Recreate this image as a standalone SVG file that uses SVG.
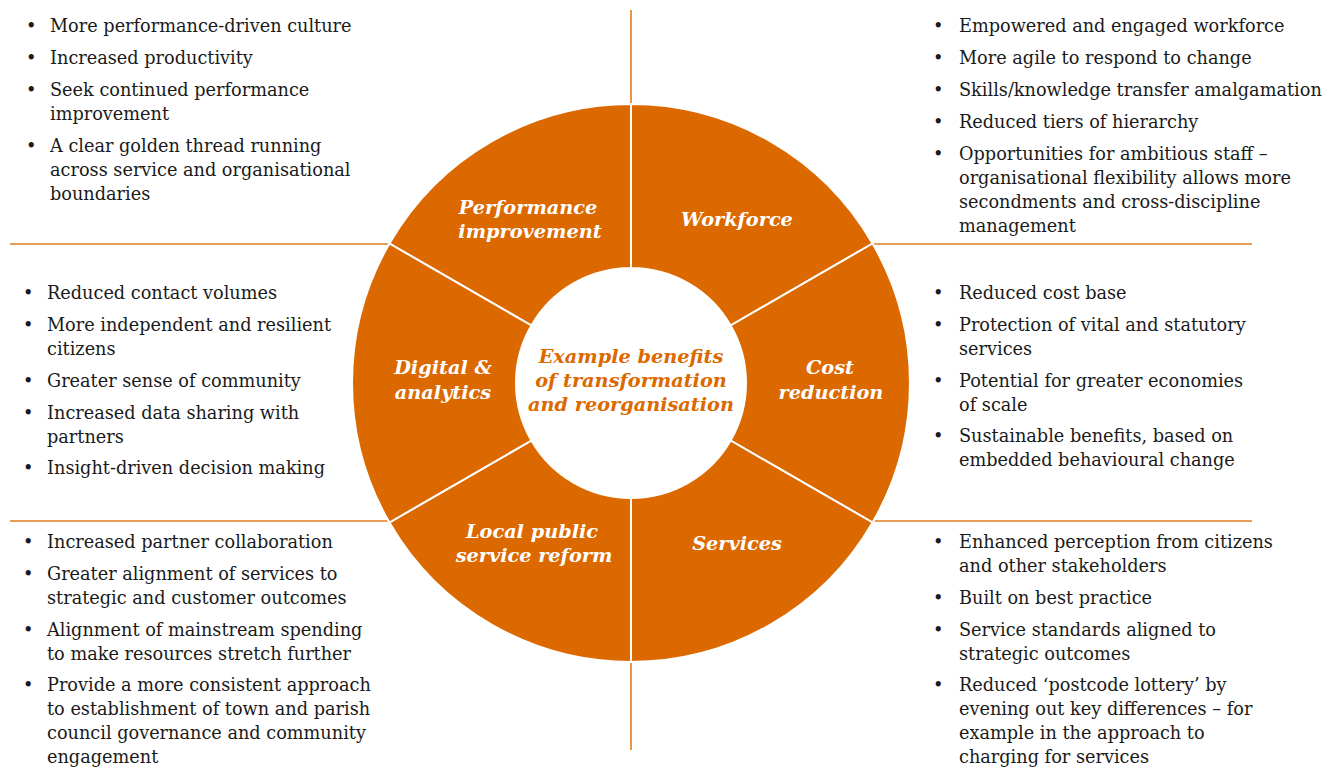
<svg xmlns="http://www.w3.org/2000/svg" width="1338" height="769" viewBox="0 0 1338 769">
<style>
.seg{fill:#DC6900;stroke:#FFFFFF;stroke-width:2}
.rule{stroke:#E07B1E;stroke-width:1.6;fill:none}
.lbl{font-family:"DejaVu Serif","Liberation Serif",serif;font-weight:bold;font-style:italic;font-size:19.3px;fill:#FFFFFF;text-anchor:middle}
.ctr{font-family:"DejaVu Serif","Liberation Serif",serif;font-weight:bold;font-style:italic;font-size:19.3px;fill:#DC6900;text-anchor:middle}
.txt{font-family:"DejaVu Serif","Liberation Serif",serif;font-size:17.7px;fill:#1A1A1A}
</style>
<rect width="1338" height="769" fill="#FFFFFF"/>
<g id="connectors">
<line class="rule" x1="10" y1="244" x2="389" y2="244"/>
<line class="rule" x1="873" y1="244" x2="1252" y2="244"/>
<line class="rule" x1="10" y1="521" x2="389" y2="521"/>
<line class="rule" x1="873" y1="521" x2="1252" y2="521"/>
<line class="rule" x1="631" y1="10" x2="631" y2="104"/>
<line class="rule" x1="631" y1="662" x2="631" y2="750"/>
</g>
<g id="performance">
<path class="seg" d="M389.4,243.5 A279,279 0 0 1 631,104 L631,268 A115,115 0 0 0 531.4,325.5 Z"/>
<text class="lbl" x="528" y="214">Performance</text>
<text class="lbl" x="530" y="238">improvement</text>
</g>
<g id="workforce">
<path class="seg" d="M631,104 A279,279 0 0 1 872.6,243.5 L730.6,325.5 A115,115 0 0 0 631,268 Z"/>
<text class="lbl" x="737" y="226">Workforce</text>
</g>
<g id="cost">
<path class="seg" d="M872.6,243.5 A279,279 0 0 1 872.6,522.5 L730.6,440.5 A115,115 0 0 0 730.6,325.5 Z"/>
<text class="lbl" x="830" y="374">Cost</text>
<text class="lbl" x="831" y="399">reduction</text>
</g>
<g id="services">
<path class="seg" d="M872.6,522.5 A279,279 0 0 1 631,662 L631,498 A115,115 0 0 0 730.6,440.5 Z"/>
<text class="lbl" x="737" y="550">Services</text>
</g>
<g id="local">
<path class="seg" d="M631,662 A279,279 0 0 1 389.4,522.5 L531.4,440.5 A115,115 0 0 0 631,498 Z"/>
<text class="lbl" x="532" y="538">Local public</text>
<text class="lbl" x="534" y="562">service reform</text>
</g>
<g id="digital">
<path class="seg" d="M389.4,522.5 A279,279 0 0 1 389.4,243.5 L531.4,325.5 A115,115 0 0 0 531.4,440.5 Z"/>
<text class="lbl" x="443" y="374">Digital &amp;</text>
<text class="lbl" x="443" y="399">analytics</text>
</g>
<g id="center">
<text class="ctr" x="631" y="363">Example benefits</text>
<text class="ctr" x="631" y="387">of transformation</text>
<text class="ctr" x="631" y="411">and reorganisation</text>
</g>
<g id="list-performance" class="txt">
<text x="26" y="32">•</text><text x="50" y="32">More performance-driven culture</text>
<text x="26" y="64">•</text><text x="50" y="64">Increased productivity</text>
<text x="26" y="96">•</text><text x="50" y="96">Seek continued performance</text>
<text x="50" y="120">improvement</text>
<text x="26" y="152">•</text><text x="50" y="152">A clear golden thread running</text>
<text x="50" y="176">across service and organisational</text>
<text x="50" y="200">boundaries</text>
</g>
<g id="list-workforce" class="txt">
<text x="933" y="32">•</text><text x="959" y="32">Empowered and engaged workforce</text>
<text x="933" y="64">•</text><text x="959" y="64">More agile to respond to change</text>
<text x="933" y="96">•</text><text x="959" y="96">Skills/knowledge transfer amalgamation</text>
<text x="933" y="128">•</text><text x="959" y="128">Reduced tiers of hierarchy</text>
<text x="933" y="160">•</text><text x="959" y="160">Opportunities for ambitious staff –</text>
<text x="959" y="184">organisational flexibility allows more</text>
<text x="959" y="208">secondments and cross-discipline</text>
<text x="959" y="232">management</text>
</g>
<g id="list-digital" class="txt">
<text x="23" y="299">•</text><text x="47" y="299">Reduced contact volumes</text>
<text x="23" y="331">•</text><text x="47" y="331">More independent and resilient</text>
<text x="47" y="355">citizens</text>
<text x="23" y="387">•</text><text x="47" y="387">Greater sense of community</text>
<text x="23" y="419">•</text><text x="47" y="419">Increased data sharing with</text>
<text x="47" y="443">partners</text>
<text x="23" y="474">•</text><text x="47" y="474">Insight-driven decision making</text>
</g>
<g id="list-cost" class="txt">
<text x="933" y="299">•</text><text x="959" y="299">Reduced cost base</text>
<text x="933" y="331">•</text><text x="959" y="331">Protection of vital and statutory</text>
<text x="959" y="355">services</text>
<text x="933" y="387">•</text><text x="959" y="387">Potential for greater economies</text>
<text x="959" y="411">of scale</text>
<text x="933" y="442">•</text><text x="959" y="442">Sustainable benefits, based on</text>
<text x="959" y="466">embedded behavioural change</text>
</g>
<g id="list-local" class="txt">
<text x="23" y="548">•</text><text x="47" y="548">Increased partner collaboration</text>
<text x="23" y="580">•</text><text x="47" y="580">Greater alignment of services to</text>
<text x="47" y="604">strategic and customer outcomes</text>
<text x="23" y="636">•</text><text x="47" y="636">Alignment of mainstream spending</text>
<text x="47" y="660">to make resources stretch further</text>
<text x="23" y="691">•</text><text x="47" y="691">Provide a more consistent approach</text>
<text x="47" y="715">to establishment of town and parish</text>
<text x="47" y="739">council governance and community</text>
<text x="47" y="763">engagement</text>
</g>
<g id="list-services" class="txt">
<text x="933" y="548">•</text><text x="959" y="548">Enhanced perception from citizens</text>
<text x="959" y="572">and other stakeholders</text>
<text x="933" y="604">•</text><text x="959" y="604">Built on best practice</text>
<text x="933" y="636">•</text><text x="959" y="636">Service standards aligned to</text>
<text x="959" y="660">strategic outcomes</text>
<text x="933" y="691">•</text><text x="959" y="691">Reduced ‘postcode lottery’ by</text>
<text x="959" y="715">evening out key differences – for</text>
<text x="959" y="739">example in the approach to</text>
<text x="959" y="763">charging for services</text>
</g>
</svg>
